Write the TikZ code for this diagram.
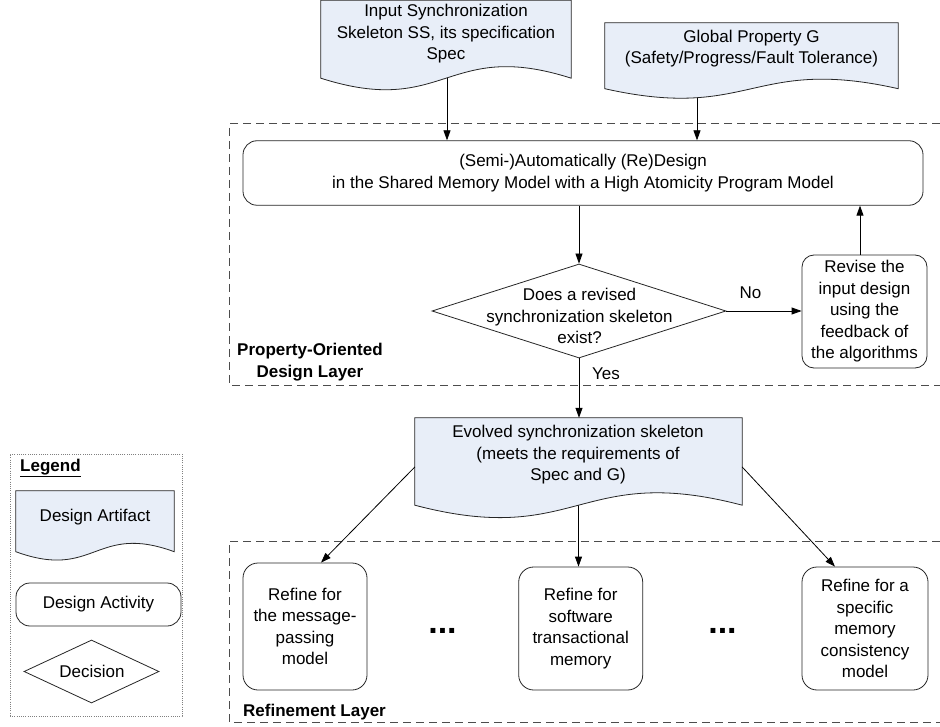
\documentclass[tikz,border=0pt]{standalone}
\usepackage{fontspec}
\setmainfont{Liberation Sans}
\usetikzlibrary{arrows.meta,shapes.geometric}
\definecolor{docfill}{RGB}{232,238,248}
\newcommand\docoutline[2]{%
  \draw[docline] (#1.south west) -- (#1.north west) -- (#1.north east) -- (#1.south east)
    .. controls ([yshift=#2]#1.south) and ([yshift=-#2]#1.south) .. (#1.south west) -- cycle;}
\begin{document}
\begin{tikzpicture}[x=1pt,y=-1pt,
  txt/.style={font=\fontsize{17}{21.5}\selectfont, align=center, inner sep=0pt},
  bold/.style={font=\bfseries\fontsize{17}{21.5}\selectfont, align=center, inner sep=0pt},
  docline/.style={draw=black!85, fill=docfill, line width=0.8pt},
  docbox/.style={inner sep=0pt, draw=none},
  act/.style={txt, draw=black!85, rounded corners=14pt, line width=0.8pt},
  dec/.style={diamond, draw=black!85, line width=0.8pt, inner sep=0pt},
  arr/.style={-{Triangle[length=10pt,width=7pt]}, line width=0.8pt, draw=black},
  layer/.style={draw=black!70, line width=1pt, dash pattern=on 8pt off 5pt},
  dots/.style={font=\bfseries\fontsize{34}{34}\selectfont, inner sep=0pt},
]
\useasboundingbox (0,0) rectangle (940,727);
\fill[white] (0,0) rectangle (940,727);

% layers
\coordinate (l1ne) at (940,124); \coordinate (l1nw) at (229,124);
\coordinate (l1sw) at (229,385); \coordinate (l1se) at (940,385);
\draw[layer] (l1ne) -- (l1nw) -- (l1sw) -- (l1se);
\coordinate (l2ne) at (940,541); \coordinate (l2nw) at (229,541);
\coordinate (l2sw) at (229,722); \coordinate (l2se) at (940,722);
\draw[layer] (l2ne) -- (l2nw) -- (l2sw) -- (l2se);

% main activity box
\node[act, minimum width=680, minimum height=64.5] (big) at (583,173)
  {(Semi-)Automatically (Re)Design\\in the Shared Memory Model with a High Atomicity Program Model};

% document boxes (shapes)
\node[docbox, minimum width=250, minimum height=77.5] (doc1box) at (446,39.25) {};
\node[docbox, minimum width=293, minimum height=65.5] (doc2box) at (751.5,55.75) {};
\node[docbox, minimum width=327, minimum height=87] (doc3box) at (578.5,461.5) {};

% refinement boxes
\node[act, rounded corners=15pt, minimum width=124, minimum height=127] (box1) at (305,626.5)
  {Refine for\\the message-\\passing\\model};
\node[act, rounded corners=15pt, minimum width=124, minimum height=123] (box2) at (580.7,628.5)
  {Refine for\\software\\transactional\\memory};
\node[act, rounded corners=15pt, minimum width=126, minimum height=123] (box3) at (865,628.5)
  {Refine for a\\specific\\memory\\consistency\\model};

% decision
\node[dec, minimum width=294, minimum height=94] (dec) at (579,311) {};
\node[txt] (dect) at (579.5,316) {Does a revised\\synchronization skeleton\\exist?};

\node[act, rounded corners=12pt, minimum width=125, minimum height=113] (rev) at (864.5,311.5)
  {Revise the\\input design\\using the\\feedback of\\the algorithms};

% arrows starting inside documents (covered by the document fill)
\coordinate (d1a) at (447,40);
\coordinate (d2a) at ([xshift=-54.5pt]doc2box.center);
\draw[arr] (d1a) -- (d1a |- big.north);
\draw[arr] (d2a) -- (d2a |- big.north);
\draw[arr] (doc3box.center) -- (doc3box.center |- box2.north);

% documents
\docoutline{doc1box}{40}
\node[txt] (doc1) at (446,34) {Input Synchronization\\Skeleton SS, its specification\\Spec};
\docoutline{doc2box}{33}
\node[txt] (doc2) at (751.5,48.5) {Global Property G\\(Safety/Progress/Fault Tolerance)};
\docoutline{doc3box}{43}
\node[txt] (doc3) at (578,455) {Evolved synchronization skeleton\\(meets the requirements of\\Spec and G)};

% connectors
\draw[arr] (dec.north |- big.south) -- (dec.north);
\draw[arr] (dec.east) -- (dec.east -| rev.west);
\node[txt] (no) at (750.5,293) {No};
\coordinate (revtop) at ([xshift=-4.5pt]rev.north);
\draw[arr] (revtop) -- (revtop |- big.south);
\draw[arr] (dec.south) -- (dec.south |- doc3box.north);
\node[txt] (yes) at (606,374) {Yes};
\draw[arr] ([yshift=-5.5pt]doc3box.west) -- ([xshift=16pt]box1.north);
\draw[arr] ([yshift=-5.5pt]doc3box.east) -- ([xshift=-30pt]box3.north);

\node[dots] (dots1) at (442.5,631) {...};
\node[dots] (dots2) at (722.5,631) {...};

% layer labels
\node[bold, anchor=west] (pod) at (237,362) {Property-Oriented\\Design Layer};
\node[bold, anchor=west] (ref) at (243,712) {Refinement Layer};

% legend
\node[draw=black!50, line width=0.7pt, dash pattern=on 1pt off 1.2pt, minimum width=172, minimum height=262, inner sep=0pt] (leg) at (96,585) {};
\node[bold, anchor=west] (legt) at (20,468) {\underline{Legend}};
\node[docbox, minimum width=158, minimum height=60.5] (legdocbox) at (95,521.25) {};
\docoutline{legdocbox}{29}
\node[txt] (legdoc) at (95,517) {Design Artifact};
\node[act, minimum width=165, minimum height=43] (legact) at (98.5,604.5) {Design Activity};
\node[dec, minimum width=135, minimum height=63] (legdec) at (91.5,671.5) {};
\node[txt] (legdect) at (92,671) {Decision};
\end{tikzpicture}
\end{document}
